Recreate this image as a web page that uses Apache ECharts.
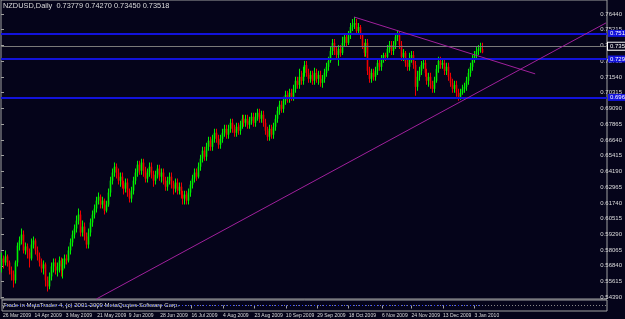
<!DOCTYPE html>
<html><head><meta charset="utf-8">
<script src="https://cdn.jsdelivr.net/npm/echarts@6/dist/echarts.min.js"></script>
<style>html,body{margin:0;padding:0;background:#05041a;}#c{width:625px;height:319px;}</style>
</head><body><div id="c"></div><script>
// ---- data ----
const openPrices = [
0.5688,0.5742,0.5711,0.5758,0.5711,0.5649,0.5618,0.5571,0.5711,0.5843,
0.5883,0.5929,0.5805,0.5836,0.5789,0.5742,0.5851,0.5883,0.5805,0.5758,
0.5711,0.5664,0.5696,0.5571,0.5524,0.5602,0.5680,0.5711,0.5649,0.5680,
0.5727,0.5649,0.5696,0.5742,0.5727,0.5805,0.5867,0.5929,0.5976,0.6038,
0.6085,0.5945,0.5991,0.5914,0.5851,0.5945,0.6023,0.6085,0.6132,0.6194,
0.6225,0.6163,0.6194,0.6116,0.6163,0.6257,0.6350,0.6413,0.6459,0.6413,
0.6350,0.6381,0.6319,0.6288,0.6335,0.6257,0.6210,0.6272,0.6350,0.6413,
0.6475,0.6428,0.6491,0.6428,0.6366,0.6413,0.6459,0.6397,0.6350,0.6397,
0.6444,0.6381,0.6413,0.6350,0.6303,0.6350,0.6381,0.6319,0.6288,0.6335,
0.6272,0.6303,0.6241,0.6210,0.6241,0.6194,0.6257,0.6319,0.6366,0.6413,
0.6381,0.6459,0.6522,0.6584,0.6537,0.6615,0.6662,0.6615,0.6677,0.6724,
0.6677,0.6631,0.6677,0.6724,0.6755,0.6709,0.6755,0.6802,0.6755,0.6724,
0.6771,0.6740,0.6787,0.6833,0.6802,0.6833,0.6787,0.6818,0.6849,0.6802,
0.6849,0.6880,0.6833,0.6865,0.6802,0.6740,0.6693,0.6755,0.6709,0.6771,
0.6833,0.6896,0.6943,0.6911,0.6974,0.7020,0.6989,0.7036,0.7005,0.7067,
0.7130,0.7098,0.7161,0.7130,0.7192,0.7254,0.7192,0.7145,0.7176,0.7130,
0.7192,0.7145,0.7176,0.7114,0.7145,0.7192,0.7239,0.7285,0.7363,0.7426,
0.7363,0.7332,0.7379,0.7348,0.7426,0.7473,0.7426,0.7488,0.7550,0.7566,
0.7582,0.7519,0.7550,0.7488,0.7395,0.7348,0.7426,0.7208,0.7145,0.7192,
0.7161,0.7208,0.7270,0.7239,0.7301,0.7332,0.7317,0.7379,0.7410,0.7363,
0.7410,0.7473,0.7488,0.7410,0.7317,0.7348,0.7270,0.7239,0.7301,0.7332,
0.7254,0.7083,0.7161,0.7208,0.7254,0.7270,0.7192,0.7130,0.7161,0.7098,
0.7067,0.7130,0.7223,0.7285,0.7254,0.7270,0.7208,0.7239,0.7161,0.7114,
0.7067,0.7098,0.7036,0.7005,0.7036,0.7067,0.7083,0.7130,0.7192,0.7239,
0.7301,0.7332,0.7363,0.7379,0.73779
];
const closePrices = [
0.5742,0.5711,0.5758,0.5711,0.5649,0.5618,0.5571,0.5711,0.5843,0.5883,
0.5929,0.5805,0.5836,0.5789,0.5742,0.5851,0.5883,0.5805,0.5758,0.5711,
0.5664,0.5696,0.5571,0.5524,0.5602,0.5680,0.5711,0.5649,0.5680,0.5727,
0.5649,0.5696,0.5742,0.5727,0.5805,0.5867,0.5929,0.5976,0.6038,0.6085,
0.5945,0.5991,0.5914,0.5851,0.5945,0.6023,0.6085,0.6132,0.6194,0.6225,
0.6163,0.6194,0.6116,0.6163,0.6257,0.6350,0.6413,0.6459,0.6413,0.6350,
0.6381,0.6319,0.6288,0.6335,0.6257,0.6210,0.6272,0.6350,0.6413,0.6475,
0.6428,0.6491,0.6428,0.6366,0.6413,0.6459,0.6397,0.6350,0.6397,0.6444,
0.6381,0.6413,0.6350,0.6303,0.6350,0.6381,0.6319,0.6288,0.6335,0.6272,
0.6303,0.6241,0.6210,0.6241,0.6194,0.6257,0.6319,0.6366,0.6413,0.6381,
0.6459,0.6522,0.6584,0.6537,0.6615,0.6662,0.6615,0.6677,0.6724,0.6677,
0.6631,0.6677,0.6724,0.6755,0.6709,0.6755,0.6802,0.6755,0.6724,0.6771,
0.6740,0.6787,0.6833,0.6802,0.6833,0.6787,0.6818,0.6849,0.6802,0.6849,
0.6880,0.6833,0.6865,0.6802,0.6740,0.6693,0.6755,0.6709,0.6771,0.6833,
0.6896,0.6943,0.6911,0.6974,0.7020,0.6989,0.7036,0.7005,0.7067,0.7130,
0.7098,0.7161,0.7130,0.7192,0.7254,0.7192,0.7145,0.7176,0.7130,0.7192,
0.7145,0.7176,0.7114,0.7145,0.7192,0.7239,0.7285,0.7363,0.7426,0.7363,
0.7332,0.7379,0.7348,0.7426,0.7473,0.7426,0.7488,0.7550,0.7566,0.7582,
0.7519,0.7550,0.7488,0.7395,0.7348,0.7426,0.7208,0.7145,0.7192,0.7161,
0.7208,0.7270,0.7239,0.7301,0.7332,0.7317,0.7379,0.7410,0.7363,0.7410,
0.7473,0.7488,0.7410,0.7317,0.7348,0.7270,0.7239,0.7301,0.7332,0.7254,
0.7083,0.7161,0.7208,0.7254,0.7270,0.7192,0.7130,0.7161,0.7098,0.7067,
0.7130,0.7223,0.7285,0.7254,0.7270,0.7208,0.7239,0.7161,0.7114,0.7067,
0.7098,0.7036,0.7005,0.7036,0.7067,0.7083,0.7130,0.7192,0.7239,0.7301,
0.7332,0.7363,0.7379,0.7390,0.73518
];
const highPrices = [
0.5789,0.5765,0.5805,0.5773,0.5727,0.5680,0.5649,0.5727,0.5867,0.5914,
0.5976,0.5960,0.5867,0.5859,0.5820,0.5898,0.5914,0.5898,0.5836,0.5789,
0.5742,0.5727,0.5711,0.5602,0.5633,0.5711,0.5742,0.5742,0.5711,0.5758,
0.5750,0.5742,0.5773,0.5773,0.5836,0.5898,0.5960,0.6007,0.6077,0.6132,
0.6116,0.6038,0.6023,0.5945,0.5976,0.6054,0.6116,0.6163,0.6225,0.6257,
0.6241,0.6225,0.6210,0.6194,0.6288,0.6381,0.6444,0.6491,0.6483,0.6444,
0.6413,0.6413,0.6350,0.6366,0.6366,0.6288,0.6303,0.6381,0.6444,0.6506,
0.6506,0.6522,0.6522,0.6459,0.6444,0.6491,0.6491,0.6428,0.6428,0.6475,
0.6475,0.6444,0.6444,0.6381,0.6381,0.6413,0.6413,0.6350,0.6366,0.6366,
0.6335,0.6335,0.6272,0.6272,0.6272,0.6288,0.6350,0.6397,0.6444,0.6444,
0.6491,0.6553,0.6615,0.6615,0.6646,0.6693,0.6693,0.6709,0.6755,0.6755,
0.6709,0.6709,0.6755,0.6787,0.6787,0.6787,0.6833,0.6833,0.6787,0.6802,
0.6802,0.6818,0.6865,0.6865,0.6865,0.6865,0.6849,0.6880,0.6880,0.6880,
0.6911,0.6911,0.6896,0.6896,0.6833,0.6771,0.6787,0.6787,0.6802,0.6865,
0.6927,0.6974,0.6974,0.7005,0.7052,0.7052,0.7067,0.7067,0.7098,0.7161,
0.7161,0.7223,0.7208,0.7239,0.7285,0.7285,0.7223,0.7208,0.7208,0.7231,
0.7223,0.7208,0.7208,0.7176,0.7223,0.7270,0.7317,0.7395,0.7457,0.7457,
0.7395,0.7410,0.7410,0.7473,0.7504,0.7504,0.7519,0.7582,0.7613,0.7628,
0.7613,0.7582,0.7566,0.7504,0.7426,0.7457,0.7457,0.7239,0.7223,0.7223,
0.7239,0.7301,0.7301,0.7332,0.7348,0.7348,0.7410,0.7441,0.7441,0.7441,
0.7504,0.7519,0.7519,0.7441,0.7379,0.7363,0.7301,0.7348,0.7363,0.7363,
0.7285,0.7208,0.7239,0.7285,0.7301,0.7301,0.7223,0.7192,0.7192,0.7130,
0.7161,0.7254,0.7317,0.7317,0.7301,0.7301,0.7270,0.7270,0.7192,0.7145,
0.7130,0.7130,0.7067,0.7067,0.7098,0.7114,0.7161,0.7223,0.7270,0.7332,
0.7363,0.7395,0.7410,0.7426,0.74270
];
const lowPrices = [
0.5633,0.5664,0.5688,0.5680,0.5618,0.5571,0.5516,0.5547,0.5680,0.5805,
0.5851,0.5781,0.5773,0.5742,0.5672,0.5727,0.5820,0.5773,0.5727,0.5680,
0.5633,0.5618,0.5524,0.5485,0.5501,0.5571,0.5633,0.5618,0.5602,0.5633,
0.5602,0.5586,0.5664,0.5696,0.5711,0.5773,0.5836,0.5898,0.5945,0.6007,
0.5914,0.5914,0.5883,0.5820,0.5820,0.5914,0.5991,0.6054,0.6101,0.6163,
0.6132,0.6132,0.6085,0.6101,0.6147,0.6225,0.6319,0.6381,0.6366,0.6319,
0.6303,0.6288,0.6241,0.6257,0.6225,0.6179,0.6179,0.6241,0.6319,0.6381,
0.6397,0.6397,0.6381,0.6335,0.6335,0.6381,0.6366,0.6303,0.6319,0.6366,
0.6350,0.6335,0.6319,0.6272,0.6272,0.6319,0.6288,0.6241,0.6257,0.6241,
0.6241,0.6210,0.6163,0.6163,0.6163,0.6163,0.6225,0.6288,0.6335,0.6350,
0.6366,0.6428,0.6491,0.6506,0.6506,0.6584,0.6584,0.6584,0.6646,0.6646,
0.6600,0.6600,0.6646,0.6693,0.6677,0.6677,0.6724,0.6724,0.6693,0.6693,
0.6709,0.6709,0.6755,0.6771,0.6771,0.6755,0.6755,0.6787,0.6771,0.6771,
0.6818,0.6802,0.6802,0.6771,0.6709,0.6662,0.6662,0.6677,0.6677,0.6740,
0.6802,0.6865,0.6880,0.6880,0.6943,0.6958,0.6958,0.6974,0.6974,0.7036,
0.7067,0.7067,0.7098,0.7098,0.7161,0.7161,0.7114,0.7114,0.7098,0.7098,
0.7114,0.7098,0.7083,0.7075,0.7114,0.7161,0.7208,0.7270,0.7332,0.7332,
0.7301,0.7247,0.7317,0.7332,0.7395,0.7395,0.7410,0.7457,0.7519,0.7535,
0.7488,0.7488,0.7457,0.7379,0.7317,0.7317,0.7176,0.7114,0.7114,0.7130,
0.7130,0.7176,0.7208,0.7208,0.7270,0.7285,0.7301,0.7348,0.7332,0.7332,
0.7379,0.7441,0.7379,0.7285,0.7285,0.7239,0.7208,0.7208,0.7270,0.7223,
0.7013,0.7052,0.7130,0.7176,0.7223,0.7161,0.7098,0.7083,0.7067,0.7036,
0.7036,0.7114,0.7192,0.7223,0.7223,0.7176,0.7176,0.7130,0.7083,0.7036,
0.7036,0.7005,0.6974,0.6982,0.7020,0.7036,0.7052,0.7098,0.7161,0.7208,
0.7270,0.7301,0.7332,0.7348,0.73450
];
// price scale tick labels (bottom -> top)
const priceTicks = ['0.54390','0.55615','0.56840','0.58065','0.59290','0.60515','0.61740','0.62965','0.64190',
  '0.65415','0.66640','0.67865','0.69090','0.70315','0.71540','0.72765','0.73990','0.75215','0.76440'];
// date tick labels shown under the chart
const dateTicks = ['26 Mar 2009','14 Apr 2009','3 May 2009','21 May 2009','9 Jun 2009','28 Jun 2009','16 Jul 2009',
  '4 Aug 2009','23 Aug 2009','10 Sep 2009','29 Sep 2009','18 Oct 2009','6 Nov 2009','24 Nov 2009','13 Dec 2009','3 Jan 2010'];
const levelPrices = [0.7519, 0.7299, 0.6960];   // blue horizontal lines
const bidPrice = 0.73518;
const resistanceLine = [[179, 0.7628], [271, 0.7184]];
const supportLine = [[48, 0.5426], [307, 0.7582]];
const indicatorSpan = [0, 244];
const titleText = 'NZDUSD,Daily  0.73779 0.74270 0.73450 0.73518';
const footerText = 'Trade in MetaTrader 4, (c) 2001-2009 MetaQuotes Software Corp.';

// ---- categories: daily bars (Sun-Fri, no Saturdays, holidays skipped) ----
const MONTHS = ['Jan','Feb','Mar','Apr','May','Jun','Jul','Aug','Sep','Oct','Nov','Dec'];
const closedDays = ['25 Dec 2009', '1 Jan 2010'];
const N_SLOTS = 308;
const dates = [];
let t = Date.UTC(2009, 2, 26);
while (dates.length < N_SLOTS) {
  const d = new Date(t);
  const s = d.getUTCDate() + ' ' + MONTHS[d.getUTCMonth()] + ' ' + d.getUTCFullYear();
  if (d.getUTCDay() !== 6 && !closedDays.includes(s)) dates.push(s);
  t += 86400000;
}
const candleRows = openPrices.map((o, i) => [i, o, closePrices[i], lowPrices[i], highPrices[i]]);

const Y_MIN = 0.54258, Y_MAX = 0.77608;
const FONT = 'Liberation Sans';
const AX = '#a0a0a0';
const TXT = '#dcdcdc';
const UP = '#00f000', DOWN = '#f00000';
const isDateTick = (idx, val) => dateTicks.includes(val);

function renderCandle(params, api) {
  const i = api.value(0), o = api.value(1), c = api.value(2), l = api.value(3), h = api.value(4);
  const top = api.coord([i, Math.max(o, c)]);
  const bot = api.coord([i, Math.min(o, c)]);
  const hi = api.coord([i, h]);
  const lo = api.coord([i, l]);
  const x = Math.round(top[0] - 0.5);
  const color = c >= o ? UP : DOWN;
  return {
    type: 'group',
    children: [
      { type: 'rect', shape: { x: x, y: hi[1], width: 1, height: Math.max(1, lo[1] - hi[1]) }, style: { fill: color } },
      { type: 'rect', shape: { x: x - 0.3, y: top[1], width: 1.6, height: Math.max(1, bot[1] - top[1]) }, style: { fill: color } }
    ]
  };
}

const hLine = (v, color, w, bg, border) => ({
  yAxis: v,
  lineStyle: { color: color, width: w, type: 'solid' },
  label: { show: true, position: 'end', distance: 1, formatter: v.toFixed(5),
    color: '#ffffff', backgroundColor: bg, borderColor: border || bg, borderWidth: border ? 1 : 0,
    padding: [1, 2, 0, 2], fontSize: 6, fontFamily: FONT }
});

const chart = echarts.init(document.getElementById('c'), null, { renderer: 'canvas' });
chart.setOption({
  animation: false,
  backgroundColor: '#05041a',
  grid: [
    { left: 1, right: 18, top: -1, height: 300, show: true, borderColor: AX, borderWidth: 1, backgroundColor: 'transparent' },
    { left: 1, right: 18, top: 14, height: 283.3, show: false },
    { left: 1, right: 18, top: 300, height: 11, show: true, borderColor: AX, borderWidth: 1, backgroundColor: 'transparent' }
  ],
  xAxis: [
    { type: 'category', gridIndex: 0, data: dates, show: false },
    { type: 'value', gridIndex: 1, show: false },
    { type: 'category', gridIndex: 2, data: dates, axisLine: { show: false },
      axisTick: { show: true, interval: isDateTick, alignWithLabel: true, length: 3, lineStyle: { color: AX } },
      axisLabel: { interval: isDateTick, align: 'left', fontSize: 5, color: TXT, margin: 2, fontFamily: FONT } }
  ],
  yAxis: [
    { type: 'value', gridIndex: 0, min: Y_MIN, max: Y_MAX, show: false },
    { type: 'category', gridIndex: 1, data: priceTicks, position: 'right', boundaryGap: false,
      axisLine: { show: false }, splitLine: { show: false },
      axisTick: { show: true, length: 3, lineStyle: { color: AX } },
      axisLabel: { fontSize: 6, color: TXT, margin: 3, fontFamily: FONT } },
    { type: 'value', gridIndex: 2, min: -1, max: 1, show: false }
  ],
  series: [
    {
      type: 'custom', xAxisIndex: 0, yAxisIndex: 0, data: candleRows, renderItem: renderCandle,
      encode: { x: 0, y: [1, 2, 3, 4] }, silent: true, clip: true,
      markLine: {
        silent: true, symbol: ['none', 'none'], animation: false,
        data: [
          ...levelPrices.map(v => hLine(v, '#1212dc', 2, '#1212dc', null)),
          hLine(bidPrice, '#7a7a7a', 1, '#05041a', '#ffffff'),
          [{ coord: resistanceLine[0], lineStyle: { color: '#a0209c', width: 1, type: 'solid' }, label: { show: false } },
           { coord: resistanceLine[1] }],
          [{ coord: supportLine[0], lineStyle: { color: '#a0209c', width: 1, type: 'solid' }, label: { show: false } },
           { coord: supportLine[1] }]
        ]
      }
    },
    {
      type: 'line', xAxisIndex: 2, yAxisIndex: 2, data: [], silent: true,
      markLine: { silent: true, symbol: ['none', 'none'], label: { show: false },
        data: [
          { yAxis: 0, lineStyle: { color: '#8a8a8a', width: 1, type: [1, 2] } },
          [{ coord: [indicatorSpan[0], 0], lineStyle: { color: '#2a3cff', width: 1, type: [1, 3], dashOffset: 1 } },
           { coord: [indicatorSpan[1], 0] }]
        ] }
    }
  ],
  graphic: [
    { type: 'text', left: 3, top: 2, style: { text: titleText, fill: TXT, font: '7.4px ' + FONT } },
    { type: 'text', left: 3, top: 302, style: { text: footerText, fill: TXT, font: '6px ' + FONT } }
  ]
});
</script></body></html>
